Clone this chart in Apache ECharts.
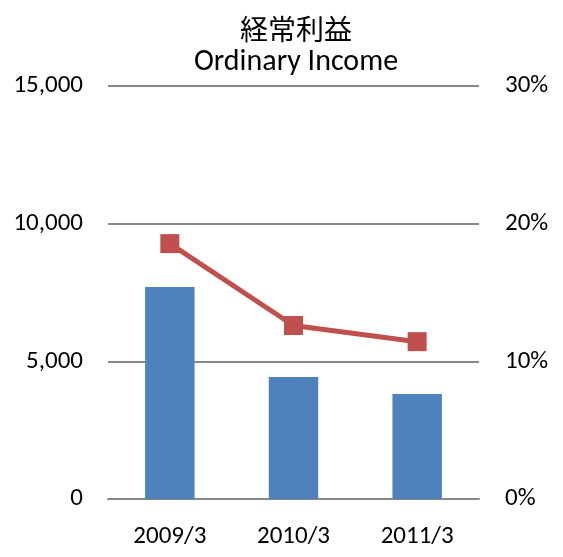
<!DOCTYPE html>
<html>
<head>
<meta charset="utf-8">
<script src="https://cdn.jsdelivr.net/npm/echarts@6/dist/echarts.min.js"></script>
<style>
  html, body { margin: 0; padding: 0; background: #fff; }
  #chart { width: 563px; height: 557px; }
</style>
</head>
<body>
<div id="chart"></div>
<script>
var categories = ['2009/3', '2010/3', '2011/3'];
var incomeValues = [7700, 4430, 3810];
var marginValues = [18.55, 12.6, 11.43];

var fontStack = 'Carlito, Lato, "Liberation Sans", "Noto Sans CJK JP", sans-serif';

var chart = echarts.init(document.getElementById('chart'));
chart.setOption({
    animation: false,
    title: {
        text: '{a|経常利益}\n{b|Ordinary Income}',
        // centred a little right of the middle, like the original
        left: 291,
        textAlign: 'center',
        top: 6,
        textStyle: {
            fontWeight: 'normal',
            rich: {
                a: {
                    fontFamily: '"Noto Sans CJK JP", sans-serif',
                    fontSize: 28,
                    fontWeight: 'normal',
                    color: '#000',
                    lineHeight: 36
                },
                b: {
                    fontFamily: fontStack,
                    fontSize: 30,
                    fontWeight: 'normal',
                    color: '#000',
                    lineHeight: 31
                }
            }
        }
    },
    grid: {
        left: 108,
        right: 84,
        top: 86,
        bottom: 58
    },
    xAxis: {
        type: 'category',
        data: categories,
        axisLine: { lineStyle: { color: '#888', width: 2 } },
        axisTick: { show: false },
        axisLabel: {
            margin: 25,
            fontFamily: fontStack,
            fontSize: 25,
            color: '#000'
        }
    },
    yAxis: [
        {
            type: 'value',
            min: 0,
            max: 15000,
            interval: 5000,
            axisLine: { show: false },
            axisTick: { show: false },
            splitLine: { lineStyle: { color: '#888', width: 2 } },
            axisLabel: {
                margin: 25,
                fontFamily: fontStack,
                fontSize: 25,
                color: '#000',
                formatter: function (v) { return v.toLocaleString('en-US'); }
            }
        },
        {
            type: 'value',
            min: 0,
            max: 30,
            interval: 10,
            axisLine: { show: false },
            axisTick: { show: false },
            splitLine: { show: false },
            axisLabel: {
                margin: 26,
                fontFamily: fontStack,
                fontSize: 25,
                color: '#000',
                formatter: '{value}%'
            }
        }
    ],
    series: [
        {
            name: '経常利益',
            type: 'bar',
            data: incomeValues,
            barWidth: '40%',
            itemStyle: { color: '#4F81BD' }
        },
        {
            name: '経常利益率',
            type: 'line',
            yAxisIndex: 1,
            data: marginValues,
            symbol: 'rect',
            symbolSize: 19,
            lineStyle: { color: '#C0504D', width: 5 },
            itemStyle: { color: '#C0504D' }
        }
    ]
});
</script>
</body>
</html>
